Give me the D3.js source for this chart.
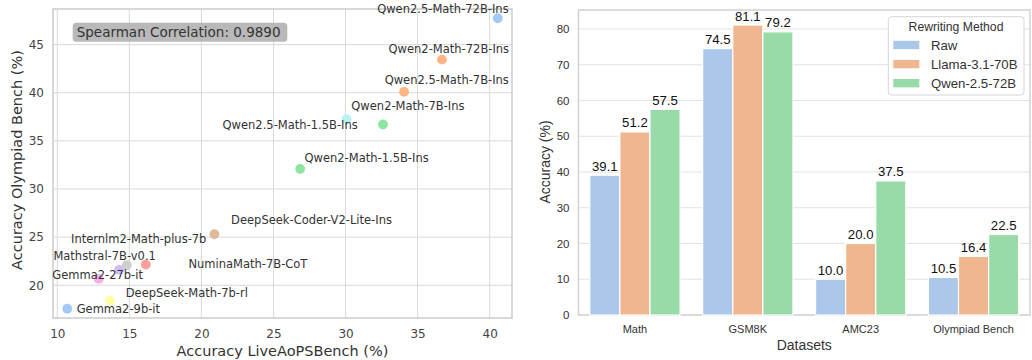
<!DOCTYPE html>
<html>
<head>
<meta charset="utf-8">
<script src="https://cdn.jsdelivr.net/npm/d3@7"></script>
<style>
  html, body { margin: 0; padding: 0; background: #fff; }
  svg { display: block; }
</style>
</head>
<body>
<svg id="chart" width="1032" height="360"></svg>
<script>
// ---------- Data: left scatter ----------
const models = [
  "Qwen2.5-Math-72B-Ins", "Qwen2-Math-72B-Ins", "Qwen2.5-Math-7B-Ins", "Qwen2-Math-7B-Ins",
  "Qwen2.5-Math-1.5B-Ins", "Qwen2-Math-1.5B-Ins", "DeepSeek-Coder-V2-Lite-Ins",
  "Internlm2-Math-plus-7b", "Mathstral-7B-v0.1", "NuminaMath-7B-CoT", "Gemma2-27b-it",
  "DeepSeek-Math-7b-rl", "Gemma2-9b-it"
];
const liveAoPSAcc = [40.56, 36.69, 34.06, 32.6, 30.07, 26.85, 20.9, 14.28, 14.82, 16.14, 12.87, 13.66, 10.69];
const olympiadAcc = [47.74, 43.44, 40.1, 36.7, 37.26, 32.08, 25.3, 21.6, 22.08, 22.15, 20.66, 18.4, 17.56];
const scatterXTicks = [10, 15, 20, 25, 30, 35, 40];
const scatterYTicks = [20, 25, 30, 35, 40, 45];
const spearmanText = "Spearman Correlation: 0.9890";

// ---------- Data: right grouped bars ----------
const datasets = ["Math", "GSM8K", "AMC23", "Olympiad Bench"];
const methods = ["Raw", "Llama-3.1-70B", "Qwen-2.5-72B"];
const rawAcc = [39.1, 74.5, 10.0, 10.5];
const llamaAcc = [51.2, 81.1, 20.0, 16.4];
const qwenAcc = [57.5, 79.2, 37.5, 22.5];
const barYTicks = [0, 10, 20, 30, 40, 50, 60, 70, 80];

// ---------- Styles / layout (not data) ----------
const pastel = {blue:"#a1c9f4", orange:"#ffb482", green:"#8de5a1", red:"#ff9f9b", purple:"#d0bbff",
  tan:"#debb9b", pink:"#fab0e4", gray:"#cfcfcf", yellow:"#fffea3", cyan:"#b9f2f0"};
const pointColors = [pastel.blue, pastel.orange, pastel.orange, pastel.green, pastel.cyan, pastel.green,
  pastel.tan, pastel.purple, pastel.gray, pastel.red, pastel.pink, pastel.yellow, pastel.blue];
// label offsets in px relative to point: [dx to text start, dy to text middle]
const labelOffsets = [[-120.6,-9.4],[-53.4,-11],[-19.4,-11.3],[-31.7,-18.7],[-124,5.7],[4.3,-11.3],
  [16.7,-14],[-48,-30.7],[-73.4,-9.3],[42.6,-0.4],[-46.4,-4.3],[15.7,-8],[9.4,0.6]];
const barColors = ["#abc8eb", "#f0b690", "#98dba8"];

const svg = d3.select("#chart");

// ================= LEFT: scatter =================
(function(){
  const L = {x0: 53, x1: 512, y0: 9, y1: 318};
  const font = "DejaVu Sans, sans-serif";
  const x = d3.scaleLinear().domain([9.7, 41.55]).range([L.x0, L.x1]);
  const y = d3.scaleLinear().domain([16.6, 48.7]).range([L.y1, L.y0]);
  const g = svg.append("g");

  // grid
  g.append("g").selectAll("line").data(scatterXTicks).join("line")
    .attr("x1", d => x(d)).attr("x2", d => x(d)).attr("y1", L.y0).attr("y2", L.y1)
    .attr("stroke", "#d9d9d9").attr("stroke-width", 1);
  g.append("g").selectAll("line").data(scatterYTicks).join("line")
    .attr("y1", d => y(d)).attr("y2", d => y(d)).attr("x1", L.x0).attr("x2", L.x1)
    .attr("stroke", "#d9d9d9").attr("stroke-width", 1);
  // frame
  g.append("rect").attr("x", L.x0).attr("y", L.y0).attr("width", L.x1 - L.x0).attr("height", L.y1 - L.y0)
    .attr("fill", "none").attr("stroke", "#cccccc").attr("stroke-width", 1.5);

  // axes (tick labels via d3 axes)
  const xAxis = g.append("g").attr("transform", `translate(0,${L.y1})`)
    .call(d3.axisBottom(x).tickValues(scatterXTicks).tickSize(0).tickPadding(11));
  const yAxis = g.append("g").attr("transform", `translate(${L.x0},0)`)
    .call(d3.axisLeft(y).tickValues(scatterYTicks).tickSize(0).tickPadding(9));
  [xAxis, yAxis].forEach(a => {
    a.select(".domain").remove();
    a.selectAll("text").attr("font-family", font).attr("font-size", 12).attr("fill", "#444");
  });

  // titles
  g.append("text").attr("x", (L.x0 + L.x1) / 2).attr("y", 351).attr("dominant-baseline", "central")
    .attr("text-anchor", "middle").attr("font-family", font).attr("font-size", 14.5).attr("fill", "#333")
    .text("Accuracy LiveAoPSBench (%)");
  g.append("text").attr("transform", `translate(17,160) rotate(-90)`).attr("dominant-baseline", "central")
    .attr("text-anchor", "middle").attr("font-family", font).attr("font-size", 14.5).attr("fill", "#333")
    .text("Accuracy Olympiad Bench (%)");

  // points
  const idx = d3.range(models.length);
  g.append("g").selectAll("circle").data(idx).join("circle")
    .attr("cx", i => x(liveAoPSAcc[i])).attr("cy", i => y(olympiadAcc[i])).attr("r", 4.9)
    .attr("fill", i => pointColors[i]);

  // labels
  g.append("g").selectAll("text").data(idx).join("text")
    .attr("x", i => x(liveAoPSAcc[i]) + labelOffsets[i][0])
    .attr("y", i => y(olympiadAcc[i]) + labelOffsets[i][1])
    .attr("dominant-baseline", "central").attr("font-family", font).attr("font-size", 11.5)
    .attr("fill", "#333").text(i => models[i]);

  // spearman box
  const bx = L.x0 + 19.7, by = L.y0 + 13.7;
  g.append("rect").attr("x", bx).attr("y", by).attr("width", 214.6).attr("height", 19).attr("rx", 3.5)
    .attr("fill", "#b9b9b9");
  g.append("text").attr("x", bx + 4).attr("y", by + 9.5).attr("dominant-baseline", "central")
    .attr("font-family", font).attr("font-size", 13.5).attr("fill", "#333").text(spearmanText);
})();

// ================= RIGHT: grouped bars =================
(function(){
  const R = {x0: 578.5, x1: 1030, y0: 10, y1: 315};
  const font = "Liberation Sans, Arial, sans-serif";
  const x0 = d3.scaleBand().domain(datasets).range([R.x0, R.x1]).paddingInner(0).paddingOuter(0);
  const x1 = d3.scaleBand().domain(methods).range([x0.bandwidth() * 0.1, x0.bandwidth() * 0.9]).padding(0);
  const y = d3.scaleLinear().domain([0, 85.3]).range([R.y1, R.y0]);
  const series = [rawAcc, llamaAcc, qwenAcc];
  const g = svg.append("g");

  g.append("g").selectAll("line").data(barYTicks).join("line")
    .attr("y1", d => y(d)).attr("y2", d => y(d)).attr("x1", R.x0).attr("x2", R.x1)
    .attr("stroke", "#e2e2e2").attr("stroke-width", 1);
  g.append("rect").attr("x", R.x0).attr("y", R.y0).attr("width", R.x1 - R.x0).attr("height", R.y1 - R.y0)
    .attr("fill", "none").attr("stroke", "#d2d2d2").attr("stroke-width", 1.5);

  const xAxis = g.append("g").attr("transform", `translate(0,${R.y1})`)
    .call(d3.axisBottom(x0).tickSize(0).tickPadding(10));
  const yAxis = g.append("g").attr("transform", `translate(${R.x0},0)`)
    .call(d3.axisLeft(y).tickValues(barYTicks).tickSize(0).tickPadding(9));
  [xAxis, yAxis].forEach(a => {
    a.select(".domain").remove();
    a.selectAll("text").attr("font-family", font).attr("font-size", 11.5).attr("fill", "#333");
  });
  xAxis.selectAll("text").attr("font-size", 11);

  g.append("text").attr("x", (R.x0 + R.x1) / 2).attr("y", 345).attr("dominant-baseline", "central")
    .attr("text-anchor", "middle").attr("font-family", font).attr("font-size", 14).attr("fill", "#333")
    .text("Datasets");
  g.append("text").attr("transform", `translate(545,162) rotate(-90)`).attr("dominant-baseline", "central")
    .attr("text-anchor", "middle").attr("font-family", font).attr("font-size", 14).attr("fill", "#333")
    .text("Accuracy (%)");

  const cells = [];
  datasets.forEach((ds, i) => methods.forEach((m, j) => cells.push({ds, m, j, v: series[j][i]})));
  const bars = g.append("g");
  bars.selectAll("rect").data(cells).join("rect")
    .attr("x", d => x0(d.ds) + x1(d.m)).attr("width", x1.bandwidth())
    .attr("y", d => y(d.v)).attr("height", d => y(0) - y(d.v))
    .attr("fill", d => barColors[d.j]).attr("stroke", "#fff").attr("stroke-width", 1.2);
  bars.selectAll("text").data(cells).join("text")
    .attr("x", d => x0(d.ds) + x1(d.m) + x1.bandwidth() / 2).attr("y", d => y(d.v) - 4.5)
    .attr("text-anchor", "middle").attr("font-family", font).attr("font-size", 13.2).attr("fill", "#111")
    .text(d => d.v.toFixed(1));

  // legend
  const lg = g.append("g");
  lg.append("rect").attr("x", 888.3).attr("y", 16.7).attr("width", 135.7).attr("height", 78.3).attr("rx", 3)
    .attr("fill", "#fff").attr("fill-opacity", 0.85).attr("stroke", "#d6d6d6").attr("stroke-width", 1);
  lg.append("text").attr("x", 956).attr("y", 26.7).attr("dominant-baseline", "central").attr("text-anchor", "middle")
    .attr("font-family", font).attr("font-size", 12.2).attr("fill", "#333").text("Rewriting Method");
  const ly = d3.scalePoint().domain(methods).range([45, 83.2]);
  lg.selectAll("rect.sw").data(methods).join("rect").attr("class", "sw")
    .attr("x", 893.3).attr("y", d => ly(d) - 4.2).attr("width", 26).attr("height", 8.4)
    .attr("fill", (d, i) => barColors[i]);
  lg.selectAll("text.lb").data(methods).join("text").attr("class", "lb")
    .attr("x", 931).attr("y", d => ly(d)).attr("dominant-baseline", "central")
    .attr("font-family", font).attr("font-size", 13.2).attr("fill", "#333").text(d => d);
})();
</script>
</body>
</html>
